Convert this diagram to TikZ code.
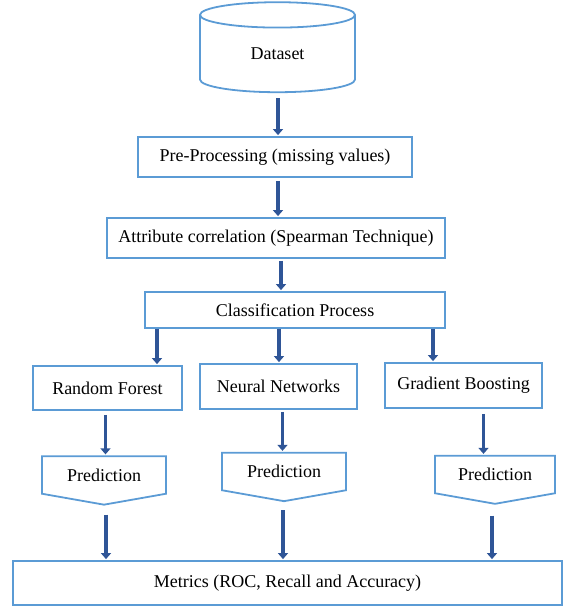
\documentclass[tikz,border=0pt]{standalone}
\usepackage{fontspec}
\setmainfont{Liberation Serif}
\usetikzlibrary{positioning, arrows.meta, shapes.geometric, shapes.symbols}
\definecolor{BoxBlue}{RGB}{91,155,213}
\definecolor{ArrowBlue}{RGB}{47,85,151}

\begin{document}
\begin{tikzpicture}[
  x=1pt, y=-1pt,
  box/.style={draw=BoxBlue, line width=1.8pt, rectangle, inner sep=0pt, align=center, font=\fontsize{18}{21}\selectfont},
  store/.style={box, cylinder, shape border rotate=90, shape aspect=0.47, minimum width=155pt, minimum height=90pt},
  pred/.style={box, signal, signal to=south, signal from=nowhere, signal pointer angle=160, minimum width=124pt, minimum height=44pt},
  flow/.style={draw=ArrowBlue, line width=3.8pt, shorten >=1pt, -{Triangle[width=10pt,length=6pt]}}
]
\useasboundingbox (0,0) rectangle (566,606);

% Data preparation
\node[store] (data) at (277.5,54) {Dataset};
\node[box, minimum width=274pt, minimum height=40pt] (pre) at (275,157) {Pre-Processing (missing values)};
\node[box, minimum width=338pt, minimum height=40pt] (attr) at (276,238) {Attribute correlation (Spearman Technique)};
\node[box, minimum width=300pt, minimum height=36pt] (cls) at (295,310) {Classification Process};

% Classifiers
\node[box, minimum width=149pt, minimum height=44pt] (rf) at (107.5,388) {Random Forest};
\node[box, minimum width=157pt, minimum height=45pt] (nn) at (278.5,386.5) {Neural Networks};
\node[box, minimum width=157pt, minimum height=45pt] (gb) at (463.5,385.5) {Gradient Boosting};

% Predictions
\node[pred] (rfpred) at (104,475) {Prediction};
\node[pred] (nnpred) at (284,471.5) {Prediction};
\node[pred, minimum width=120pt] (gbpred) at (495,474.5) {Prediction};

% Evaluation
\node[box, minimum width=549pt, minimum height=44pt] (metrics) at (287.5,583) {Metrics (ROC, Recall and Accuracy)};

% Connections
\draw[flow] ([shift={(0.5,5)}]data.south) -- ([xshift=3pt]pre.north);
\draw[flow] ([shift={(3,3)}]pre.south) -- ([xshift=2pt]attr.north);
\draw[flow] ([shift={(5,2)}]attr.south) -- ([xshift=-14pt]cls.north);

\draw[flow] ([xshift=-138pt]cls.south) -- ([xshift=-138pt]cls.south |- rf.north);
\draw[flow] ([xshift=-16pt]cls.south) -- ([xshift=-16pt]cls.south |- nn.north);
\draw[flow] ([xshift=138pt]cls.south) -- ([xshift=138pt]cls.south |- gb.north);

\draw[flow] ([shift={(-2,4)}]rf.south) -- ([xshift=-2pt]rf.south |- rfpred.north);
\draw[flow] ([shift={(4,2)}]nn.south) -- ([xshift=4pt]nn.south |- nnpred.north);
\draw[flow] ([shift={(20,5)}]gb.south) -- ([xshift=20pt]gb.south |- gbpred.north);

\draw[flow] ([shift={(2,9)}]rfpred.south) -- ([xshift=2pt]rfpred.south |- metrics.north);
\draw[flow] ([shift={(-1,8)}]nnpred.south) -- ([xshift=-1pt]nnpred.south |- metrics.north);
\draw[flow] ([shift={(-3,11)}]gbpred.south) -- ([xshift=-3pt]gbpred.south |- metrics.north);

\end{tikzpicture}
\end{document}
